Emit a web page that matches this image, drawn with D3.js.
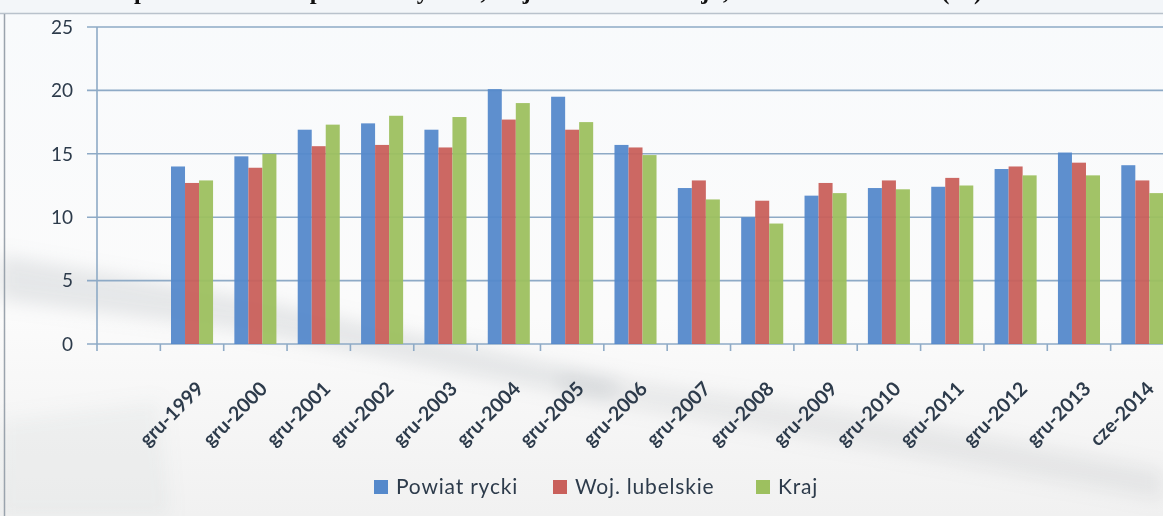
<!DOCTYPE html>
<html lang="pl">
<head>
    <meta charset="UTF-8">
    <title>Stopa bezrobocia</title>
    <style>
        body {
            margin: 0;
            padding: 0;
            background-color: #f4f7fa;
            overflow: hidden;
        }

        #chart svg {
            display: block;
        }

        .title {
            font-family: 'Liberation Serif', 'Times New Roman', serif;
            font-weight: bold;
            font-size: 24.5px;
            fill: #111;
        }

        .tick-y text {
            font-family: Lato, 'Open Sans', sans-serif;
            font-size: 19px;
            fill: #2d3b4b;
        }

        .tick-x text {
            font-family: Lato, 'Open Sans', sans-serif;
            font-weight: bold;
            font-size: 19.5px;
            fill: #2d3b4b;
        }

        .legend text {
            font-family: Lato, 'Open Sans', sans-serif;
            font-size: 21px;
            letter-spacing: 0.8px;
            fill: #2d3b4b;
        }
    </style>
</head>
<body>
    <div id="chart"></div>

    <script src="https://d3js.org/d3.v7.min.js"></script>
    <script>
        // categories (first band is empty in the original chart)
        const categories = ["", "gru-1999", "gru-2000", "gru-2001", "gru-2002", "gru-2003", "gru-2004",
            "gru-2005", "gru-2006", "gru-2007", "gru-2008", "gru-2009", "gru-2010", "gru-2011",
            "gru-2012", "gru-2013", "cze-2014"];

        const seriesNames = ["Powiat rycki", "Woj. lubelskie", "Kraj"];

        const powiatRycki = [null, 14.0, 14.8, 16.9, 17.4, 16.9, 20.1, 19.5, 15.7, 12.3, 10.0, 11.7, 12.3, 12.4, 13.8, 15.1, 14.1];
        const wojLubelskie = [null, 12.7, 13.9, 15.6, 15.7, 15.5, 17.7, 16.9, 15.5, 12.9, 11.3, 12.7, 12.9, 13.1, 14.0, 14.3, 12.9];
        const kraj = [null, 12.9, 15.0, 17.3, 18.0, 17.9, 19.0, 17.5, 14.9, 11.4, 9.5, 11.9, 12.2, 12.5, 13.3, 13.3, 11.9];

        const yTicks = [0, 5, 10, 15, 20, 25];
        const colors = ["#5589cb", "#c9605b", "#9dc05f"];

        const width = 1163;
        const height = 516;
        const margin = { top: 27, left: 97, bottom: 344, right: 1174 };

        const svg = d3.select("#chart").append("svg")
            .attr("width", width)
            .attr("height", height);

        // background
        const defs = svg.append("defs");
        const bg = defs.append("linearGradient").attr("id", "bg")
            .attr("x1", 0).attr("y1", 0).attr("x2", 0).attr("y2", 1);
        bg.append("stop").attr("offset", "0%").attr("stop-color", "#f8fafc");
        bg.append("stop").attr("offset", "60%").attr("stop-color", "#fbfbfb");
        bg.append("stop").attr("offset", "100%").attr("stop-color", "#f1f1f1");
        defs.append("filter").attr("id", "blur")
            .append("feGaussianBlur").attr("stdDeviation", 9);

        svg.append("rect").attr("width", width).attr("height", 14).attr("fill", "#f3f6f9");
        svg.append("rect").attr("y", 14).attr("width", width).attr("height", height - 14).attr("fill", "url(#bg)");

        // faint watermark photo shapes
        const wm = svg.append("g").attr("filter", "url(#blur)").attr("fill", "#9aa0a8");
        wm.append("path").attr("d", "M0,255 L260,300 L620,380 L610,400 L240,330 L0,300 Z").attr("opacity", 0.22);
        wm.append("path").attr("d", "M560,370 L900,420 L1163,470 L1163,500 L880,450 L560,395 Z").attr("opacity", 0.16);
        wm.append("path").attr("d", "M0,420 L160,400 L170,516 L0,516 Z").attr("opacity", 0.08);

        // frame lines
        svg.append("line").attr("x1", 0).attr("x2", width).attr("y1", 13.5).attr("y2", 13.5)
            .attr("stroke", "#b9c2cc").attr("stroke-width", 1.5);
        svg.append("line").attr("x1", 4.5).attr("x2", 4.5).attr("y1", 14).attr("y2", height)
            .attr("stroke", "#9aa3ad").attr("stroke-width", 1.5);

        // title (only its lower edge shows in the reference)
        svg.append("text").attr("class", "title")
            .attr("x", 100).attr("y", -1)
            .text("Stopa bezrobocia w powiecie ryckim, woj. lubelskim i kraju, w latach 1999-2014 (%)");

        const x0 = d3.scaleBand()
            .domain(categories)
            .range([margin.left, margin.right])
            .padding(0);

        const x1 = d3.scaleBand()
            .domain(seriesNames)
            .range([0, x0.bandwidth()])
            .paddingInner(0)
            .paddingOuter(0.76);

        const y = d3.scaleLinear()
            .domain([0, 25])
            .range([margin.bottom, margin.top]);

        // gridlines + y labels
        const yAxis = svg.append("g").attr("class", "tick-y");
        yAxis.selectAll("line")
            .data(yTicks)
            .enter().append("line")
            .attr("x1", margin.left - 10)
            .attr("x2", width)
            .attr("y1", d => y(d))
            .attr("y2", d => y(d))
            .attr("stroke", "#8eaac6")
            .attr("stroke-width", 1.6);
        yAxis.selectAll("text")
            .data(yTicks)
            .enter().append("text")
            .attr("x", margin.left - 24)
            .attr("y", d => y(d))
            .attr("dy", "0.36em")
            .attr("text-anchor", "end")
            .text(d => d);

        // y axis line
        svg.append("line")
            .attr("x1", margin.left).attr("x2", margin.left)
            .attr("y1", margin.top).attr("y2", margin.bottom + 7)
            .attr("stroke", "#8eaac6").attr("stroke-width", 1.6);

        // x tick marks at band boundaries
        svg.append("g").selectAll("line")
            .data(categories)
            .enter().append("line")
            .attr("x1", d => x0(d) + x0.bandwidth())
            .attr("x2", d => x0(d) + x0.bandwidth())
            .attr("y1", margin.bottom)
            .attr("y2", margin.bottom + 7)
            .attr("stroke", "#8eaac6").attr("stroke-width", 1.6);

        // bars
        const seriesValues = [powiatRycki, wojLubelskie, kraj];
        const groups = svg.append("g").selectAll("g")
            .data(categories)
            .enter().append("g")
            .attr("transform", d => `translate(${x0(d)},0)`);

        groups.selectAll("rect")
            .data((d, i) => seriesNames.map((s, k) => ({ s, k, v: seriesValues[k][i] })).filter(e => e.v !== null))
            .enter().append("rect")
            .attr("x", e => x1(e.s))
            .attr("width", x1.bandwidth())
            .attr("y", e => y(e.v))
            .attr("height", e => y(0) - y(e.v))
            .attr("fill", e => colors[e.k])
            .attr("opacity", 0.95);

        // x labels
        svg.append("g").attr("class", "tick-x").selectAll("text")
            .data(categories.filter(c => c !== ""))
            .enter().append("text")
            .attr("text-anchor", "end")
            .attr("transform", d => `translate(${x0(d) + x0.bandwidth() / 2 + 13},${margin.bottom + 46}) rotate(-45)`)
            .text(d => d);

        // legend
        const legendX = [374, 553, 756];
        const legend = svg.append("g").attr("class", "legend");
        const items = legend.selectAll("g")
            .data(seriesNames)
            .enter().append("g")
            .attr("transform", (d, i) => `translate(${legendX[i]},487)`);
        items.append("rect")
            .attr("x", 0).attr("y", -7)
            .attr("width", 14).attr("height", 14)
            .attr("fill", (d, i) => colors[i]);
        items.append("text")
            .attr("x", 22).attr("y", 0)
            .attr("dy", "0.35em")
            .text(d => d);
    </script>
</body>
</html>
